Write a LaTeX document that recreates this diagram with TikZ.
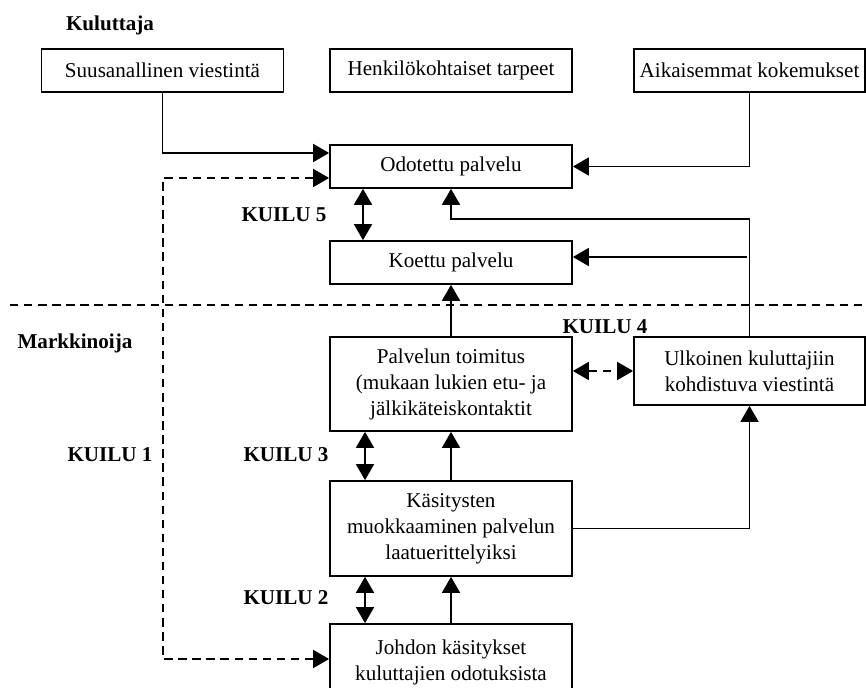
\documentclass[tikz,border=0pt]{standalone}
\usepackage{fontspec}
\setmainfont{Liberation Serif}
\usetikzlibrary{arrows.meta,positioning,calc}

\begin{document}
\begin{tikzpicture}[x=0.025cm,y=-0.025cm,
  box/.style={draw,line width=1.2pt,align=center,inner sep=0pt,minimum width=6.05cm,minimum height=1.075cm,font=\fontsize{15}{18.5}\selectfont},
  lbl/.style={font=\fontsize{15}{18}\selectfont\bfseries},
  arr/.style={line width=1.2pt,-{Triangle[length=0.4cm,width=0.45cm]}},
  dbl/.style={line width=1.2pt,{Triangle[length=0.4cm,width=0.45cm]}-{Triangle[length=0.4cm,width=0.45cm]}},
  brk/.style={line width=1.2pt,dash pattern=on 6pt off 4pt}]

\useasboundingbox (0,0) rectangle (866,688);

\node[lbl] (kul) at (110,25) {Kuluttaja};
\node[lbl] (mark) at (75,343) {Markkinoija};

\node[box] (suus) at (162.5,70.5) {Suusanallinen viestintä};
\node[box] (henk) at (451,70.5) {Henkilökohtaiset tarpeet};
\node[box,minimum width=5.775cm] (aik) at (749.5,70.5) {Aikaisemmat kokemukset};
\node[box] (odot) at (451,166.5) {Odotettu palvelu};
\node[box] (koet) at (451,262.5) {Koettu palvelu};
\node[box,minimum height=2.35cm] (palv) at (451,384) {Palvelun toimitus\\(mukaan lukien etu- ja\\jälkikäteiskontaktit};
\node[box,minimum width=5.775cm,minimum height=1.7cm] (ulko) at (749.5,371) {Ulkoinen kuluttajiin\\kohdistuva viestintä};
\node[box,minimum height=2.375cm] (kasi) at (451,528.5) {Käsitysten\\muokkaaminen palvelun\\laatuerittelyiksi};
\node[box,minimum height=1.9cm] (johd) at (451,662) {Johdon käsitykset\\kuluttajien odotuksista};

\node[lbl] (k5) at (284,215) {KUILU 5};
\node[lbl] (k4) at (605,327) {KUILU 4};
\node[lbl] (k3) at (286,455) {KUILU 3};
\node[lbl] (k2) at (286,598) {KUILU 2};
\node[lbl] (k1) at (110,455) {KUILU 1};

\draw[brk] (10,305) -- (866,305);

\draw[arr] (suus.south) |- (odot.west |- 0,153);
\draw[arr] (aik.south) |- (odot.east);
\draw[arr] (ulko.north) |- (odot.south |- 0,219) -- (odot.south);
\coordinate (feed) at (747,257);
\draw[arr] (feed) -- (koet.east |- feed);
\draw[arr] (palv.north) -- (koet.south);
\draw[arr] (kasi.north) -- (palv.south);
\draw[arr] (johd.north) -- (kasi.south);
\draw[arr] (kasi.east) -| (ulko.south);

\draw[dbl] (odot.south -| 363,0) -- (koet.north -| 363,0);
\draw[dbl] (palv.south -| 365,0) -- (kasi.north -| 365,0);
\draw[dbl] (kasi.south -| 365,0) -- (johd.north -| 365,0);
\draw[dbl,brk] (palv.east |- ulko.west) -- (ulko.west);
\draw[dbl,brk] (odot.west |- 0,178) -- (163,178) -- (163,659) -- (johd.west |- 0,659);

\end{tikzpicture}
\end{document}
